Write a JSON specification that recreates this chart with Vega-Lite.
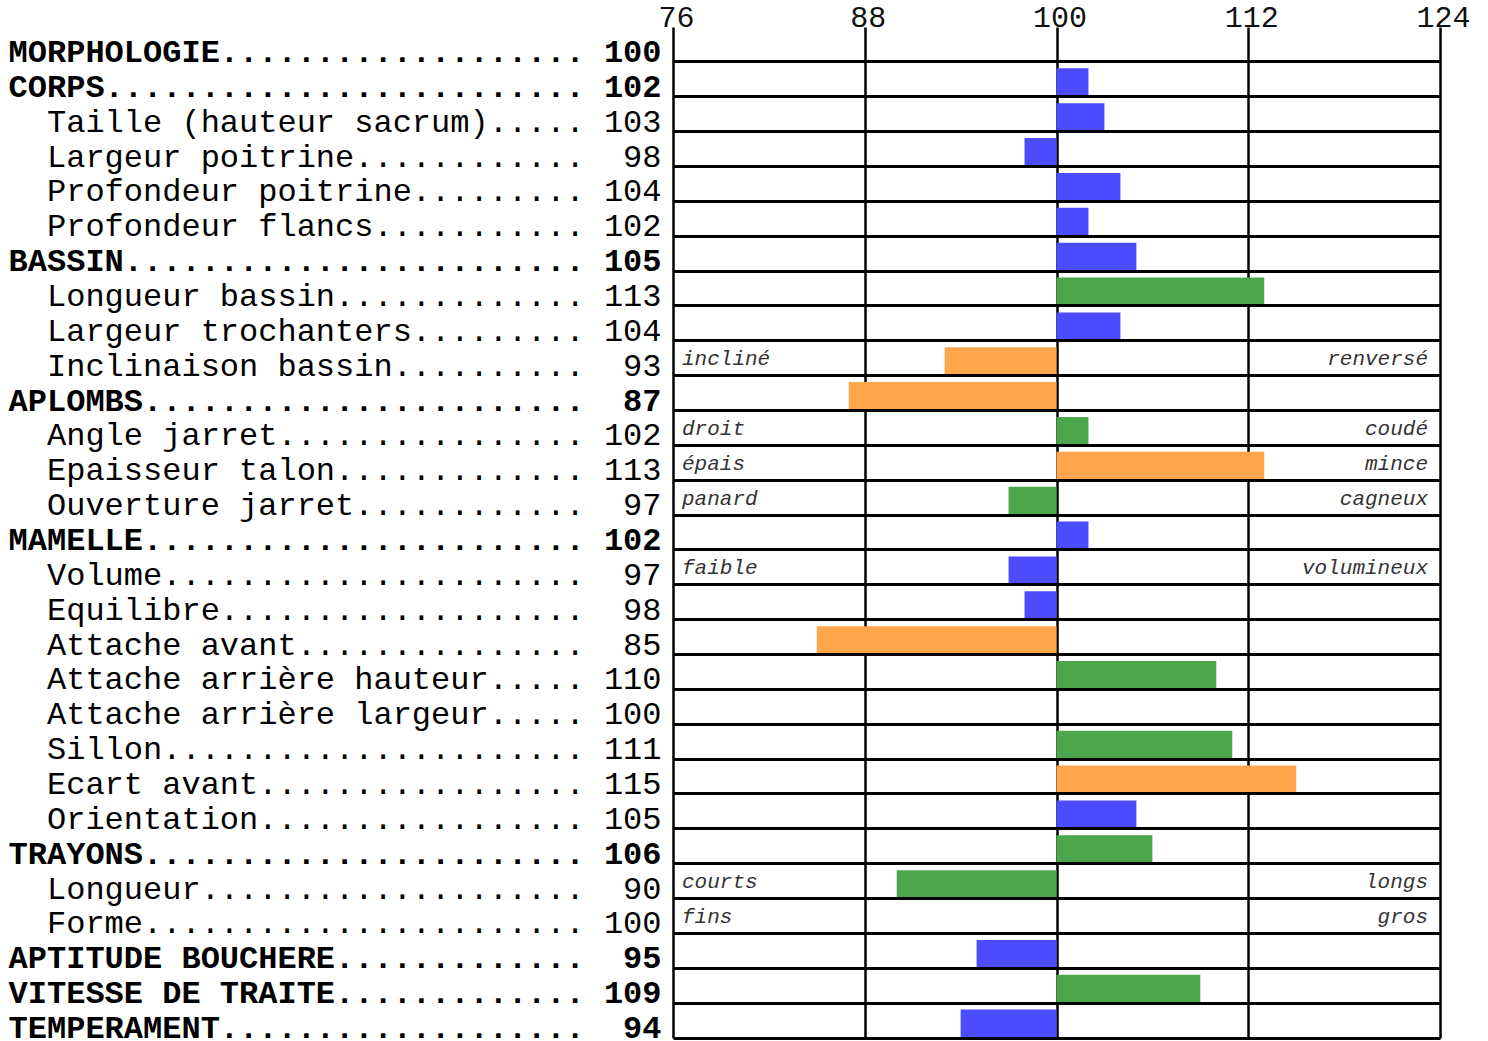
{
  "$schema": "https://vega.github.io/schema/vega-lite/v6.json",
  "width": 767,
  "height": 1011,
  "autosize": {"type": "none"},
  "padding": {"left": 673, "top": 27, "right": 48, "bottom": 3},
  "background": "white",
  "config": {
    "view": {"stroke": null},
    "font": "Liberation Mono",
    "axisX": {
      "domain": false, "ticks": false, "grid": true, "gridColor": "#000", "gridWidth": 2.5,
      "labelFont": "Liberation Mono", "labelFontSize": 30, "labelColor": "#111",
      "labelBaseline": "alphabetic", "labelPadding": 1, "labelAlign": "center",
      "labelFlush": false, "labelOffset": 3, "zindex": 1
    }
  },
  "data": {"values": [
    {"i": 1, "lab": "MORPHOLOGIE...................\u00a0100", "v": 100, "c": "n", "l": "", "r": ""},
    {"i": 2, "lab": "CORPS.........................\u00a0102", "v": 102, "c": "b", "l": "", "r": ""},
    {"i": 3, "lab": "\u00a0\u00a0Taille (hauteur sacrum).....\u00a0103", "v": 103, "c": "b", "l": "", "r": ""},
    {"i": 4, "lab": "\u00a0\u00a0Largeur poitrine............\u00a0\u00a098", "v": 98, "c": "b", "l": "", "r": ""},
    {"i": 5, "lab": "\u00a0\u00a0Profondeur poitrine.........\u00a0104", "v": 104, "c": "b", "l": "", "r": ""},
    {"i": 6, "lab": "\u00a0\u00a0Profondeur flancs...........\u00a0102", "v": 102, "c": "b", "l": "", "r": ""},
    {"i": 7, "lab": "BASSIN........................\u00a0105", "v": 105, "c": "b", "l": "", "r": ""},
    {"i": 8, "lab": "\u00a0\u00a0Longueur bassin.............\u00a0113", "v": 113, "c": "g", "l": "", "r": ""},
    {"i": 9, "lab": "\u00a0\u00a0Largeur trochanters.........\u00a0104", "v": 104, "c": "b", "l": "", "r": ""},
    {"i": 10, "lab": "\u00a0\u00a0Inclinaison bassin..........\u00a0\u00a093", "v": 93, "c": "o", "l": "incliné", "r": "renversé"},
    {"i": 11, "lab": "APLOMBS.......................\u00a0\u00a087", "v": 87, "c": "o", "l": "", "r": ""},
    {"i": 12, "lab": "\u00a0\u00a0Angle jarret................\u00a0102", "v": 102, "c": "g", "l": "droit", "r": "coudé"},
    {"i": 13, "lab": "\u00a0\u00a0Epaisseur talon.............\u00a0113", "v": 113, "c": "o", "l": "épais", "r": "mince"},
    {"i": 14, "lab": "\u00a0\u00a0Ouverture jarret............\u00a0\u00a097", "v": 97, "c": "g", "l": "panard", "r": "cagneux"},
    {"i": 15, "lab": "MAMELLE.......................\u00a0102", "v": 102, "c": "b", "l": "", "r": ""},
    {"i": 16, "lab": "\u00a0\u00a0Volume......................\u00a0\u00a097", "v": 97, "c": "b", "l": "faible", "r": "volumineux"},
    {"i": 17, "lab": "\u00a0\u00a0Equilibre...................\u00a0\u00a098", "v": 98, "c": "b", "l": "", "r": ""},
    {"i": 18, "lab": "\u00a0\u00a0Attache avant...............\u00a0\u00a085", "v": 85, "c": "o", "l": "", "r": ""},
    {"i": 19, "lab": "\u00a0\u00a0Attache arrière hauteur.....\u00a0110", "v": 110, "c": "g", "l": "", "r": ""},
    {"i": 20, "lab": "\u00a0\u00a0Attache arrière largeur.....\u00a0100", "v": 100, "c": "n", "l": "", "r": ""},
    {"i": 21, "lab": "\u00a0\u00a0Sillon......................\u00a0111", "v": 111, "c": "g", "l": "", "r": ""},
    {"i": 22, "lab": "\u00a0\u00a0Ecart avant.................\u00a0115", "v": 115, "c": "o", "l": "", "r": ""},
    {"i": 23, "lab": "\u00a0\u00a0Orientation.................\u00a0105", "v": 105, "c": "b", "l": "", "r": ""},
    {"i": 24, "lab": "TRAYONS.......................\u00a0106", "v": 106, "c": "g", "l": "", "r": ""},
    {"i": 25, "lab": "\u00a0\u00a0Longueur....................\u00a0\u00a090", "v": 90, "c": "g", "l": "courts", "r": "longs"},
    {"i": 26, "lab": "\u00a0\u00a0Forme.......................\u00a0100", "v": 100, "c": "n", "l": "fins", "r": "gros"},
    {"i": 27, "lab": "APTITUDE BOUCHERE.............\u00a0\u00a095", "v": 95, "c": "b", "l": "", "r": ""},
    {"i": 28, "lab": "VITESSE DE TRAITE.............\u00a0109", "v": 109, "c": "g", "l": "", "r": ""},
    {"i": 29, "lab": "TEMPERAMENT...................\u00a0\u00a094", "v": 94, "c": "b", "l": "", "r": ""}
  ]},
  "encoding": {
    "y": {
      "field": "lab", "type": "nominal", "sort": {"field": "i", "op": "min"},
      "scale": {"paddingInner": 0, "paddingOuter": 0},
      "axis": {
        "title": null, "domain": false, "ticks": false, "grid": true,
        "gridColor": "#000", "gridWidth": 3, "bandPosition": 1,
        "labelFont": "Liberation Mono", "labelFontSize": 32, "labelColor": "#000",
        "labelAlign": "right", "labelBaseline": "alphabetic", "labelPadding": 12,
        "labelOffset": 17.5, "labelLimit": 0, "labelOverlap": false,
        "labelFontWeight": {"condition": {"test": "test(/^[A-Z]/, datum.value)", "value": "bold"}, "value": "normal"},
        "zindex": 1
      }
    },
    "x": {
      "field": "v", "type": "quantitative",
      "scale": {"domain": [76, 124], "nice": false, "zero": false},
      "axis": {"orient": "top", "title": null, "values": [76, 88, 100, 112, 124]}
    }
  },
  "layer": [
    {
      "transform": [{"filter": "datum.v != 100"}],
      "mark": {"type": "bar", "height": {"band": 0.8}, "yOffset": 3},
      "encoding": {
        "x2": {"datum": 100},
        "color": {
          "field": "c", "type": "nominal", "legend": null,
          "scale": {"domain": ["b", "g", "o", "n"], "range": ["#4c4cff", "#4ca64c", "#ffa64c", "transparent"]}
        }
      }
    },
    {
      "mark": {"type": "text", "align": "left", "baseline": "alphabetic", "dx": 9, "dy": 7, "fontStyle": "italic", "fontSize": 21, "font": "Liberation Mono", "color": "#333"},
      "encoding": {
        "x": {"datum": 76, "type": "quantitative", "axis": {"orient": "top", "title": null, "values": [76, 88, 100, 112, 124]}},
        "text": {"field": "l"}
      }
    },
    {
      "mark": {"type": "text", "align": "right", "baseline": "alphabetic", "dx": -12, "dy": 7, "fontStyle": "italic", "fontSize": 21, "font": "Liberation Mono", "color": "#333"},
      "encoding": {
        "x": {"datum": 124, "type": "quantitative", "axis": {"orient": "top", "title": null, "values": [76, 88, 100, 112, 124]}},
        "text": {"field": "r"}
      }
    }
  ]
}
